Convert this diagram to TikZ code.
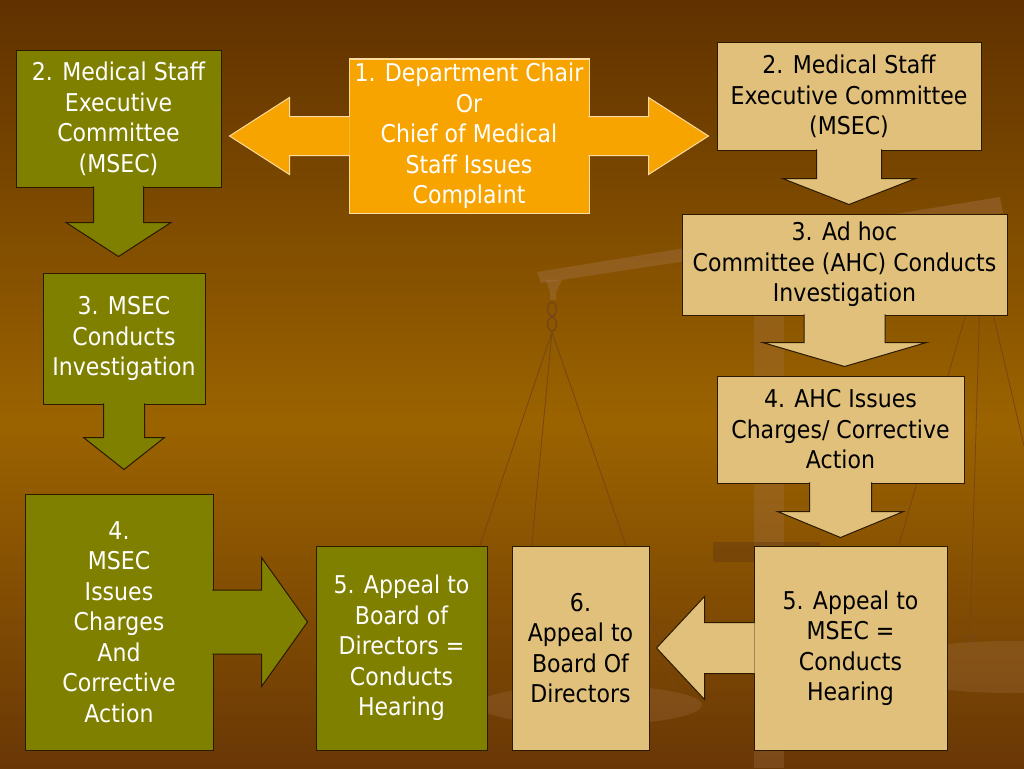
\documentclass[tikz,border=0pt]{standalone}
\usepackage{fontspec}
\setmainfont{DejaVu Sans}[FakeStretch=0.9]
\usetikzlibrary{calc}
\definecolor{bgtop}{HTML}{613200}
\definecolor{bgmid}{HTML}{9B6300}
\definecolor{bgbot}{HTML}{693706}
\definecolor{olivef}{HTML}{808000}
\definecolor{tanf}{HTML}{E0C07A}
\definecolor{orangef}{HTML}{F7A400}
\definecolor{orangeedge}{HTML}{FBDCA0}
\definecolor{edge}{HTML}{2A1A00}
\definecolor{scalec}{RGB}{165,115,75}
\definecolor{darkc}{RGB}{90,50,20}
\definecolor{stringc}{RGB}{120,70,20}
\newcommand\blkdown[6]{%
  \filldraw[#2] ($(#1.south)+(-#3,-1.2)$) -- ($(#1.south)+(-#3,#5)$) -- ($(#1.south)+(-#4,#5)$) -- ($(#1.south)+(0,#5+#6)$) -- ($(#1.south)+(#4,#5)$) -- ($(#1.south)+(#3,#5)$) -- ($(#1.south)+(#3,-1.2)$);}
\newcommand\blkright[6]{%
  \filldraw[#2] ($(#1.east)+(-1.2,-#3)$) -- ($(#1.east)+(#5,-#3)$) -- ($(#1.east)+(#5,-#4)$) -- ($(#1.east)+(#5+#6,0)$) -- ($(#1.east)+(#5,#4)$) -- ($(#1.east)+(#5,#3)$) -- ($(#1.east)+(-1.2,#3)$);}
\newcommand\blkleft[6]{%
  \filldraw[#2] ($(#1.west)+(1.2,-#3)$) -- ($(#1.west)+(-#5,-#3)$) -- ($(#1.west)+(-#5,-#4)$) -- ($(#1.west)+(-#5-#6,0)$) -- ($(#1.west)+(-#5,#4)$) -- ($(#1.west)+(-#5,#3)$) -- ($(#1.west)+(1.2,#3)$);}
\tikzset{
  boxtxt/.style={align=center, inner sep=0pt, font=\fontsize{24.5}{30.5}\selectfont, line width=1pt,
    execute at begin node={\rule{0pt}{25pt}}},
  olivebox/.style={boxtxt, fill=olivef, draw=edge, text=white},
  tanbox/.style={boxtxt, fill=tanf, draw=edge, text=black},
  orangebox/.style={boxtxt, fill=orangef, draw=orangeedge, text=white},
  olivearrow/.style={fill=olivef, draw=edge, line width=1pt, line join=miter},
  tanarrow/.style={fill=tanf, draw=edge, line width=1pt, line join=miter},
  orangearrow/.style={fill=orangef, draw=orangeedge, line width=1pt, line join=miter},
  scalepart/.style={fill=scalec, fill opacity=0.4},
  panpart/.style={fill=scalec, fill opacity=0.28},
  scalestring/.style={draw=stringc, line width=0.8pt},
}
\begin{document}
\begin{tikzpicture}[x=1pt,y=-1pt]
\useasboundingbox (0,0) rectangle (1024,768);
% background gradient, drawn as thin bands
\foreach \i in {0,...,191}{
  \pgfmathsetmacro\ya{4*\i}
  \pgfmathtruncatemacro\up{\ya<420 ? 1 : 0}
  \ifnum\up=1
    \pgfmathtruncatemacro\pp{\ya/420*100}
    \fill[bgmid!\pp!bgtop] (0,\ya) rectangle (1024,\ya+4.6);
  \else
    \pgfmathtruncatemacro\pp{(\ya-420)/348*100}
    \fill[bgbot!\pp!bgmid] (0,\ya) rectangle (1024,\ya+4.6);
  \fi
}
% faint balance scale in the background
\fill[scalepart, fill opacity=0.3] (754,215) rectangle (784,768);
\fill[darkc, fill opacity=0.35] (713,542) rectangle (820,562);
\fill[scalepart] (537,272) -- (1000,197) -- (1003,213) -- (541,283) -- cycle;
\fill[scalepart] (546,280) -- (562,280) -- (556,292) -- (556,300) -- (550,300) -- (550,292) -- cycle;
\draw[scalestring, line width=1.5pt] (552,309) ellipse (4.5 and 7) (552,324) ellipse (4.5 and 7);
\draw[scalestring] (552,332) -- (431,690) (552,332) -- (518,690) (552,332) -- (676,690);
\draw[scalestring] (981,262) -- (880,610) (981,262) -- (970,632) (981,262) -- (1024,446);
\draw[scalestring, line width=1.2pt] (971,640) circle (5);
\fill[panpart] (590,705) ellipse (112 and 20);
\fill[panpart] (1010,667) ellipse (130 and 26);
% left column
\node[olivebox, minimum width=205pt, minimum height=136pt] (mL2) at (118.5,119) {2. Medical Staff\\Executive\\Committee\\(MSEC)};
\blkdown{mL2}{olivearrow}{25}{52.5}{35}{34}
\node[olivebox, minimum width=162pt, minimum height=131pt] (mL3) at (124,338.5) {3. MSEC\\Conducts\\Investigation};
\blkdown{mL3}{olivearrow}{20.5}{40.5}{33}{32}
\node[olivebox, minimum width=188pt, minimum height=256pt] (mL4) at (119,622) {4.\\MSEC\\Issues\\Charges\\And\\Corrective\\Action};
\blkright{mL4}{olivearrow}{32}{64.5}{48}{46}
\node[olivebox, minimum width=171pt, minimum height=204pt] (mB5) at (401.5,648) {5. Appeal to\\Board of\\Directors =\\Conducts\\Hearing};
% right column
\node[tanbox, minimum width=264pt, minimum height=107pt] (tR2) at (849,96.5) {2. Medical Staff\\Executive Committee\\(MSEC)};
\blkdown{tR2}{tanarrow}{32.5}{66.5}{28}{26}
\node[tanbox, minimum width=325pt, minimum height=101pt] (tR3) at (844.5,264.5) {3. Ad hoc\\Committee (AHC) Conducts\\Investigation};
\blkdown{tR3}{tanarrow}{40.5}{82}{27}{24}
\node[tanbox, minimum width=247pt, minimum height=107pt] (tR4) at (840.5,429.5) {4. AHC Issues\\Charges/ Corrective\\Action};
\blkdown{tR4}{tanarrow}{31}{63}{28}{26}
\node[tanbox, minimum width=193pt, minimum height=204pt] (tR5) at (850.5,648) {5. Appeal to\\MSEC =\\Conducts\\Hearing};
\blkleft{tR5}{tanarrow}{25.5}{51.5}{49}{48}
\node[tanbox, minimum width=137pt, minimum height=204pt] (tB6) at (580.5,648) {6.\\Appeal to\\Board Of\\Directors};
% centre
\node[orangebox, minimum width=240pt, minimum height=154pt] (c1) at (469,136) {1. Department Chair\\Or\\Chief of Medical\\Staff Issues\\Complaint};
\blkleft{c1}{orangearrow}{19.5}{38.5}{59}{60}
\blkright{c1}{orangearrow}{19.5}{38.5}{59}{60}
\end{tikzpicture}
\end{document}
